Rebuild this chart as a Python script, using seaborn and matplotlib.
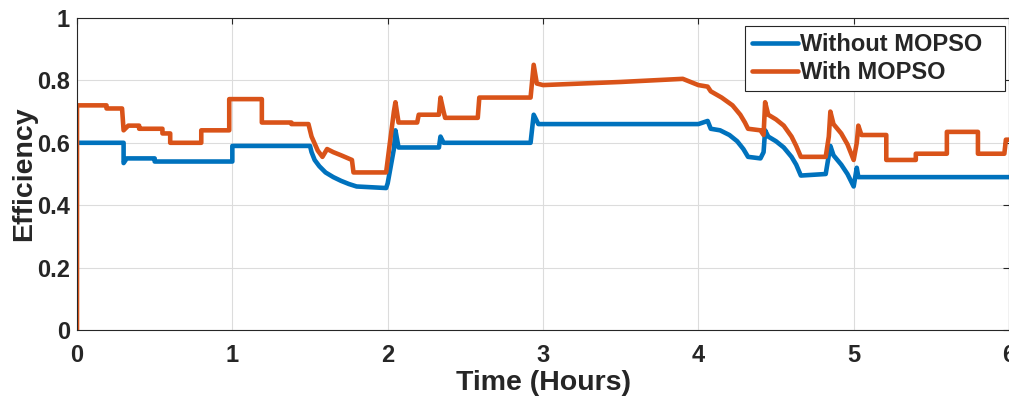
import matplotlib
matplotlib.use("Agg")
import matplotlib.pyplot as plt
import seaborn as sns
import pandas as pd

# Breakpoints (hours, efficiency)
t_without = [0.00, 0.30, 0.30, 0.32, 0.50, 0.50, 1.00, 1.00, 1.50, 1.51, 1.53, 1.56,
             1.60, 1.65, 1.70, 1.75, 1.80, 1.99, 2.00, 2.04, 2.05, 2.07, 2.33, 2.34,
             2.36, 2.92, 2.94, 2.97, 3.00, 4.00, 4.06, 4.08, 4.14, 4.20, 4.25, 4.29,
             4.32, 4.40, 4.42, 4.43, 4.45, 4.50, 4.55, 4.60, 4.63, 4.66, 4.82, 4.84,
             4.85, 4.87, 4.92, 4.96, 5.00, 5.01, 5.02, 5.03, 6.00]
eff_without = [0.60, 0.60, 0.535, 0.55, 0.55, 0.54, 0.54, 0.59, 0.59, 0.57, 0.545, 0.525,
               0.505, 0.49, 0.478, 0.468, 0.46, 0.455, 0.47, 0.58, 0.64, 0.585, 0.585, 0.62,
               0.60, 0.60, 0.69, 0.66, 0.66, 0.66, 0.67, 0.645, 0.64, 0.625, 0.605, 0.58,
               0.555, 0.55, 0.57, 0.64, 0.62, 0.605, 0.585, 0.555, 0.53, 0.495, 0.50, 0.56,
               0.59, 0.56, 0.53, 0.50, 0.46, 0.49, 0.52, 0.49, 0.49]

t_with = [0.00, 0.00, 0.19, 0.19, 0.29, 0.30, 0.33, 0.40, 0.40, 0.55, 0.55, 0.60,
          0.60, 0.80, 0.80, 0.98, 0.98, 1.19, 1.19, 1.38, 1.38, 1.49, 1.51, 1.55,
          1.58, 1.61, 1.65, 1.70, 1.77, 1.78, 1.99, 2.04, 2.05, 2.07, 2.19, 2.20,
          2.33, 2.34, 2.36, 2.37, 2.58, 2.59, 2.92, 2.94, 2.96, 3.00, 3.25, 3.50,
          3.70, 3.90, 4.00, 4.06, 4.08, 4.15, 4.22, 4.27, 4.30, 4.32, 4.40, 4.42,
          4.43, 4.45, 4.50, 4.55, 4.60, 4.63, 4.66, 4.82, 4.84, 4.85, 4.87, 4.92,
          4.96, 5.00, 5.02, 5.03, 5.05, 5.21, 5.21, 5.40, 5.40, 5.60, 5.60, 5.80,
          5.80, 5.97, 5.98, 6.00]
eff_with = [0.00, 0.72, 0.72, 0.71, 0.71, 0.64, 0.655, 0.655, 0.645, 0.645, 0.63, 0.63,
            0.60, 0.60, 0.64, 0.64, 0.74, 0.74, 0.665, 0.665, 0.66, 0.66, 0.62, 0.575,
            0.555, 0.58, 0.57, 0.56, 0.545, 0.505, 0.505, 0.70, 0.73, 0.665, 0.665, 0.69,
            0.69, 0.745, 0.70, 0.68, 0.68, 0.745, 0.745, 0.85, 0.79, 0.785, 0.79, 0.795,
            0.80, 0.805, 0.785, 0.78, 0.765, 0.745, 0.72, 0.69, 0.665, 0.645, 0.64, 0.625,
            0.73, 0.69, 0.675, 0.655, 0.62, 0.59, 0.555, 0.555, 0.62, 0.70, 0.66, 0.63,
            0.595, 0.545, 0.60, 0.655, 0.625, 0.625, 0.545, 0.545, 0.565, 0.565, 0.635, 0.635,
            0.565, 0.565, 0.61, 0.61]

series_names = ["Without MOPSO", "With MOPSO"]
colors = ["#0072BD", "#D95319"]

df = pd.concat([
    pd.DataFrame({"t": t_without, "eff": eff_without, "series": series_names[0]}),
    pd.DataFrame({"t": t_with, "eff": eff_with, "series": series_names[1]}),
])

sns.set_theme(style="whitegrid")
plt.rcParams["font.family"] = ["Liberation Sans", "DejaVu Sans"]
plt.rcParams["font.weight"] = "bold"

fig = plt.figure(figsize=(10.09, 3.96), dpi=100)
ax = fig.add_axes([77 / 1009, 66 / 396, 932 / 1009, 312 / 396])

sns.lineplot(data=df, x="t", y="eff", hue="series", hue_order=series_names,
             palette=colors, estimator=None, sort=False, units="series",
             linewidth=3.3, ax=ax)

ax.set_xlim(0, 6)
ax.set_ylim(0, 1)
ax.set_xticks(range(0, 7))
ax.set_yticks([0, 0.2, 0.4, 0.6, 0.8, 1])
ax.set_yticklabels(["0", "0.2", "0.4", "0.6", "0.8", "1"])
ax.grid(True, color="#dcdcdc", linewidth=0.8)
for s in ax.spines.values():
    s.set_color("#262626")
    s.set_linewidth(0.8)
ax.tick_params(direction="in", length=4, width=0.8, color="#262626",
               top=True, right=True, labelsize=17, labelcolor="#262626")
ax.tick_params(axis="x", pad=10)
ax.tick_params(axis="y", pad=5)
ax.set_xlabel("Time (Hours)", fontsize=20.5, fontweight="bold", color="#262626", labelpad=2)
ax.set_ylabel("Efficiency", fontsize=20.5, fontweight="bold", color="#262626", labelpad=0)

# legend box stretched to the reference's width
leg = ax.legend(loc="upper left", bbox_to_anchor=(0.7167, 0.774, 0.279, 0.2),
                mode="expand", borderaxespad=0,
                fontsize=17, frameon=True, fancybox=False, framealpha=1,
                handlelength=1.95, handletextpad=0.1, borderpad=0.3, labelspacing=0.2)
leg.get_frame().set_edgecolor("#262626")
leg.get_frame().set_linewidth(0.8)
for h in leg.get_lines():
    h.set_linewidth(3.3)

fig.savefig("out.png", dpi=100)
